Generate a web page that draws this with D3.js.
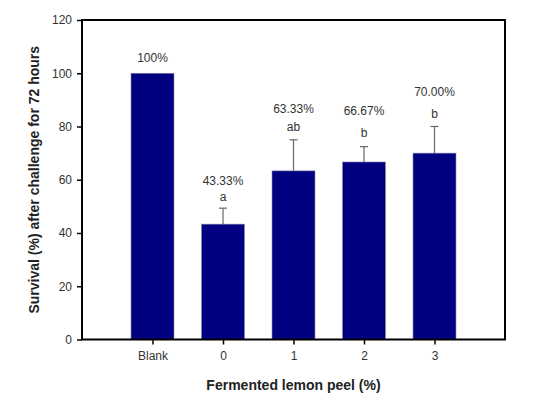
<!DOCTYPE html>
<html>
<head>
<meta charset="utf-8">
<script src="https://cdn.jsdelivr.net/npm/d3@7"></script>
<style>
  body { margin: 0; background: #fff; }
  text { font-family: "Liberation Sans", Arial, sans-serif; }
</style>
</head>
<body>
<div id="chart"></div>
<script>
// data
const categories = ['Blank', '0', '1', '2', '3'];
const survival = [100, 43.33, 63.33, 66.67, 70.00];
const errorUp = [0, 6, 11.67, 5.77, 10];
const percentLabels = ['100%', '43.33%', '63.33%', '66.67%', '70.00%'];
const letters = ['', 'a', 'ab', 'b', 'b'];
// label heights in y-units, as they sit in the figure
const percentAt = [105.7, 59.5, 86.6, 85.9, 93];
const letterAt = [null, 53.6, 79.8, 77.7, 84.7];
const yTicks = [0, 20, 40, 60, 80, 100, 120];

const width = 549, height = 397;
const mLeft = 82, mRight = 505, mTop = 20, mBottom = 339.5;

const svg = d3.select('#chart')
    .append('svg')
    .attr('width', width)
    .attr('height', height);

// categories sit at 1..5 on a 0..6 axis
const xScale = d3.scaleLinear()
    .domain([0, categories.length + 1])
    .range([mLeft, mRight]);

const yScale = d3.scaleLinear()
    .domain([0, 120])
    .range([mBottom, mTop]);

const barW = 43;

// bars
svg.append('g')
    .selectAll('rect')
    .data(survival)
    .join('rect')
    .attr('x', (d, i) => xScale(i + 1) - barW / 2)
    .attr('y', d => yScale(d))
    .attr('width', barW)
    .attr('height', d => yScale(0) - yScale(d))
    .attr('fill', '#000080')
    .attr('stroke', '#8a8aa8')
    .attr('stroke-width', 0.6);

// error bars (upper half only)
const errG = svg.append('g').attr('stroke', '#666').attr('stroke-width', 1.2);
survival.forEach((v, i) => {
    if (!errorUp[i]) return;
    const cx = xScale(i + 1);
    errG.append('line')
        .attr('x1', cx).attr('x2', cx)
        .attr('y1', yScale(v)).attr('y2', yScale(v + errorUp[i]));
    errG.append('line')
        .attr('x1', cx - 4).attr('x2', cx + 4)
        .attr('y1', yScale(v + errorUp[i])).attr('y2', yScale(v + errorUp[i]));
});

// value labels
svg.append('g')
    .selectAll('text')
    .data(percentLabels)
    .join('text')
    .attr('x', (d, i) => xScale(i + 1))
    .attr('y', (d, i) => yScale(percentAt[i]))
    .attr('dy', '0.35em')
    .attr('text-anchor', 'middle')
    .attr('font-size', 12)
    .attr('fill', '#333')
    .text(d => d);

svg.append('g')
    .selectAll('text')
    .data(letters)
    .join('text')
    .attr('x', (d, i) => xScale(i + 1))
    .attr('y', (d, i) => letterAt[i] == null ? 0 : yScale(letterAt[i]))
    .attr('dy', '0.35em')
    .attr('text-anchor', 'middle')
    .attr('font-size', 12)
    .attr('fill', '#333')
    .text(d => d);

// axes
const yAxis = d3.axisLeft(yScale)
    .tickValues(yTicks)
    .tickSize(5)
    .tickPadding(5);
const yAxisGroup = svg.append('g')
    .attr('transform', `translate(${mLeft},0)`)
    .call(yAxis);

const xAxis = d3.axisBottom(xScale)
    .tickValues(d3.range(1, categories.length + 1))
    .tickFormat(d => categories[d - 1])
    .tickSize(5)
    .tickPadding(7);
const xAxisGroup = svg.append('g')
    .attr('transform', `translate(0,${mBottom})`)
    .call(xAxis);

[yAxisGroup, xAxisGroup].forEach(g => {
    g.select('.domain').remove();
    g.selectAll('line').attr('stroke', '#000').attr('stroke-width', 1.5);
    g.selectAll('text')
        .attr('font-size', 12)
        .attr('fill', '#333')
        .style('font-family', '"Liberation Sans", Arial, sans-serif');
});

// frame
svg.append('rect')
    .attr('x', mLeft)
    .attr('y', mTop)
    .attr('width', mRight - mLeft)
    .attr('height', mBottom - mTop)
    .attr('fill', 'none')
    .attr('stroke', '#000')
    .attr('stroke-width', 2);

// axis titles
svg.append('text')
    .attr('x', (mLeft + mRight) / 2)
    .attr('y', 385)
    .attr('dy', '0.35em')
    .attr('text-anchor', 'middle')
    .attr('font-size', 14)
    .attr('font-weight', 'bold')
    .attr('fill', '#222')
    .text('Fermented lemon peel (%)');

svg.append('text')
    .attr('transform', `translate(34,${(mTop + mBottom) / 2}) rotate(-90)`)
    .attr('dy', '0.35em')
    .attr('text-anchor', 'middle')
    .attr('font-size', 14)
    .attr('font-weight', 'bold')
    .attr('fill', '#222')
    .text('Survival (%) after challenge for 72 hours');
</script>
</body>
</html>
